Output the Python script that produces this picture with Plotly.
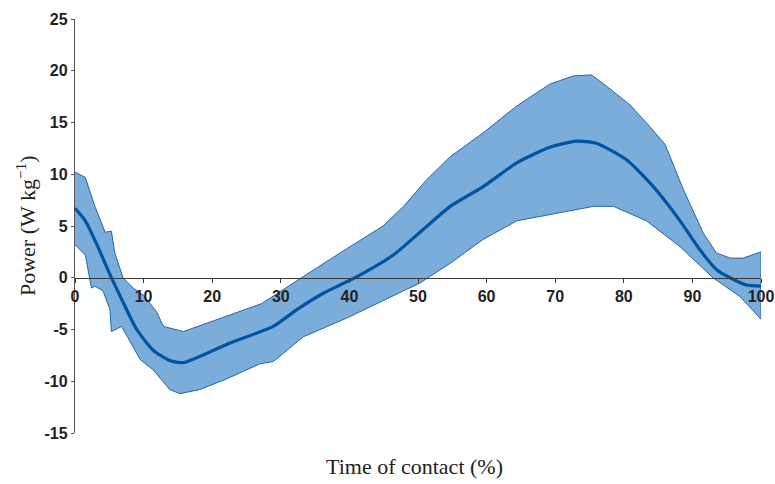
import plotly.graph_objects as go

# Upper edge of the shaded band (mean + SD)
upper_x = [0, 1.5, 2.9, 4.4, 5.3, 5.8, 7.0, 8.5, 10.0, 11.9, 12.9, 15.8, 27.2, 29.9, 33.0,
           39.6, 44.9, 47.9, 51.3, 54.7, 59.5, 64.4, 69.2, 72.6, 75.3, 77.5, 80.9, 83.8,
           86.0, 88.7, 91.6, 93.5, 95.5, 97.4, 100]
upper_y = [10.2, 9.7, 6.9, 4.4, 4.5, 2.4, 0.0, -1.0, -1.7, -3.3, -4.7, -5.2, -2.5, -1.3, 0.0,
           2.8, 5.0, 6.9, 9.5, 11.7, 14.0, 16.6, 18.7, 19.5, 19.6, 18.5, 16.7, 14.6,
           12.9, 8.5, 4.3, 2.4, 1.9, 1.9, 2.5]

# Lower edge of the shaded band (mean - SD)
lower_x = [0, 1.5, 2.4, 2.9, 4.1, 5.1, 5.3, 6.8, 9.5, 11.4, 13.8, 15.3, 18.2, 22.0, 27.0,
           28.9, 33.3, 39.6, 50.3, 54.7, 59.5, 64.4, 67.3, 70.0, 75.6, 78.5, 83.3, 88.2,
           93.0, 96.9, 100]
lower_y = [3.2, 2.2, -1.0, -0.8, -1.3, -3.1, -5.2, -4.7, -7.9, -8.9, -10.8, -11.2, -10.8, -9.8, -8.3,
           -8.1, -5.7, -3.9, -0.5, 1.4, 3.7, 5.5, 5.9, 6.2, 6.9, 6.9, 5.5, 3.0,
           0.0, -1.8, -4.0]

# Mean power curve
mean_x = [0, 1.5, 3.2, 5.1, 6.6, 9.0, 11.4, 13.8, 15.8, 22.6, 28.9, 32.3, 36.2, 41.1, 46.4,
          50.3, 54.7, 59.5, 64.4, 69.2, 73.1, 76.0, 80.4, 84.3, 88.2, 91.1, 93.5, 95.5,
          97.9, 100]
mean_y = [6.7, 5.5, 3.2, 0.3, -1.8, -5.0, -7.0, -8.0, -8.2, -6.3, -4.7, -3.1, -1.5, 0.1, 2.2,
          4.4, 6.9, 8.8, 11.1, 12.6, 13.2, 13.0, 11.4, 8.8, 5.5, 2.7, 0.8, 0.0,
          -0.7, -0.8]

x_ticks = list(range(0, 101, 10))
y_ticks = list(range(-15, 26, 5))

fig = go.Figure()
fig.add_trace(go.Scatter(
    x=upper_x + lower_x[::-1], y=upper_y + lower_y[::-1],
    fill="toself", fillcolor="rgb(123,173,219)", mode="lines",
    line=dict(color="rgb(40,100,170)", width=1), hoverinfo="skip", showlegend=False))
fig.add_trace(go.Scatter(
    x=mean_x, y=mean_y, mode="lines",
    line=dict(color="rgb(0,84,160)", width=3.2, shape="spline", smoothing=0.6),
    showlegend=False))

tickfont = dict(family="Liberation Sans, Arial, sans-serif", size=16, color="#222222", weight="bold")

fig.update_layout(
    width=775, height=484,
    margin=dict(l=75, r=14, t=19, b=51),
    paper_bgcolor="white", plot_bgcolor="white",
    xaxis=dict(range=[0, 100], tickvals=x_ticks, ticktext=[str(v) for v in x_ticks],
               anchor="free", position=0.375, showline=True, linecolor="#3a3a3a", linewidth=1.3,
               ticks="outside", ticklen=4, tickcolor="#3a3a3a", tickfont=tickfont,
               showgrid=False, zeroline=False, automargin=False),
    yaxis=dict(range=[-15, 25], tickvals=y_ticks, ticktext=[str(v) for v in y_ticks],
               showline=True, linecolor="#555555", linewidth=1.3,
               ticks="outside", ticklen=3, tickcolor="#555555", tickfont=tickfont,
               showgrid=False, zeroline=False, automargin=False),
    annotations=[
        dict(text="Time of contact (%)", xref="paper", yref="paper", x=0.4956, y=-0.082,
             xanchor="center", yanchor="middle", showarrow=False,
             font=dict(family="Liberation Serif, Times New Roman, serif", size=22, color="#222222")),
        dict(text="Power (W kg<sup>\u22121</sup>)", xref="paper", yref="paper", x=-0.0714, y=0.5,
             xanchor="center", yanchor="middle", textangle=-90, showarrow=False,
             font=dict(family="Liberation Serif, Times New Roman, serif", size=22, color="#222222")),
    ],
)

fig.write_html("out.html",
               config={"displayModeBar": False},
               post_script="document.body.style.margin='0';document.body.style.overflow='hidden';")
